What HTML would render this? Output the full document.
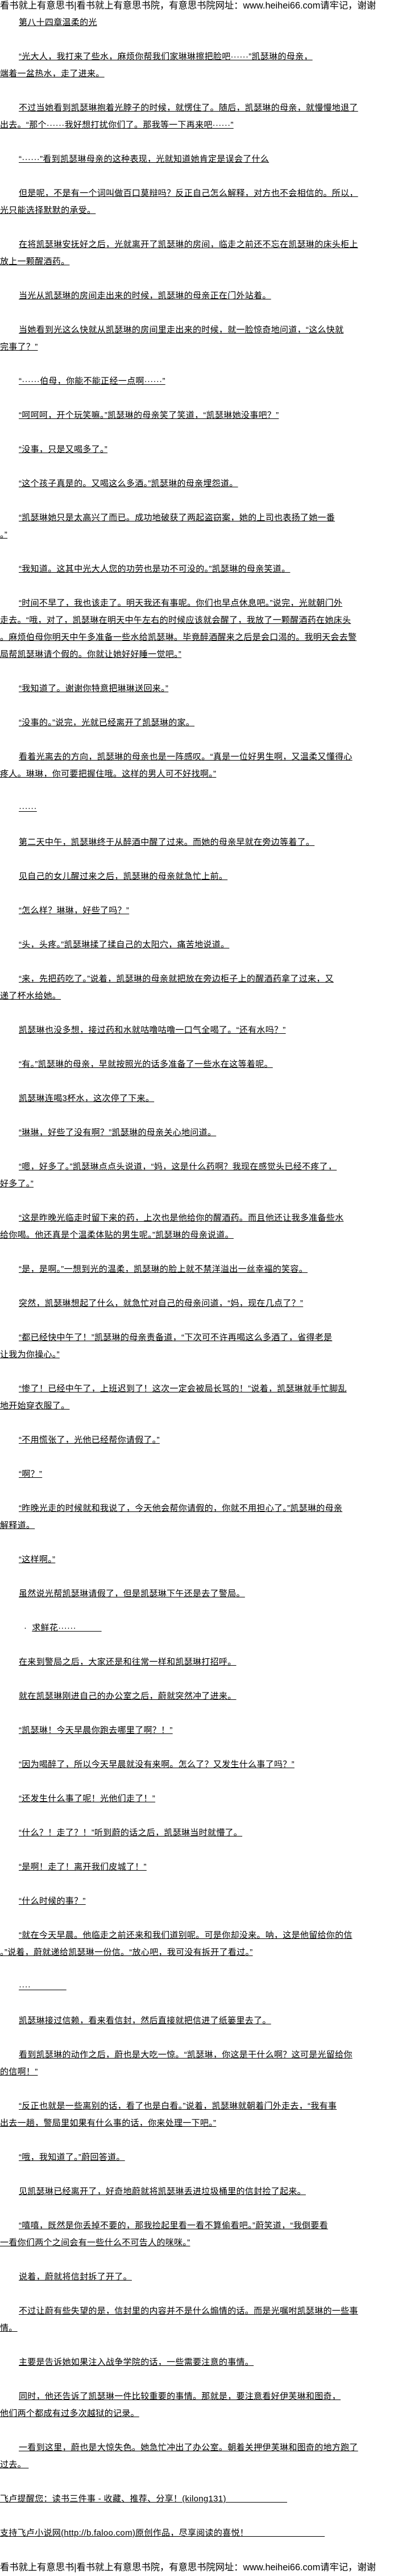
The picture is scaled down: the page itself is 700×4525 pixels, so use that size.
<!DOCTYPE html>
<html><head><meta charset="utf-8">
<style>
html,body{margin:0;padding:0;background:#fff;}
body{width:700px;height:4520px;overflow:hidden;}
#w{position:relative;top:-5px;font-family:"Liberation Sans","Noto Sans CJK SC","WenQuanYi Zen Hei",sans-serif;font-size:15px;color:#000;letter-spacing:0.3px;}
#w div{height:30px;line-height:30px;white-space:nowrap;overflow:hidden;}
.i{padding-left:33px;}
#w div span{text-decoration:underline;}
.h{font-size:16.3px;letter-spacing:0;}
</style></head><body><div id="w">
<div class="h">看书就上有意思书|看书就上有意思书院，有意思书院网址：www.heihei66.com请牢记，谢谢</div>
<div class="i"><span>第八十四章温柔的光</span></div>
<div></div>
<div class="i"><span>“光大人，我打来了些水，麻烦你帮我们家琳琳擦把脸吧······”凯瑟琳的母亲，</span></div>
<div><span>端着一盆热水，走了进来。</span></div>
<div></div>
<div class="i"><span>不过当她看到凯瑟琳抱着光脖子的时候，就愣住了。随后，凯瑟琳的母亲，就慢慢地退了</span></div>
<div><span>出去。“那个······我好想打扰你们了。那我等一下再来吧······”</span></div>
<div></div>
<div class="i"><span>“······”看到凯瑟琳母亲的这种表现，光就知道她肯定是误会了什么</span></div>
<div></div>
<div class="i"><span>但是呢，不是有一个词叫做百口莫辩吗？反正自己怎么解释，对方也不会相信的。所以，</span></div>
<div><span>光只能选择默默的承受。</span></div>
<div></div>
<div class="i"><span>在将凯瑟琳安抚好之后，光就离开了凯瑟琳的房间，临走之前还不忘在凯瑟琳的床头柜上</span></div>
<div><span>放上一颗醒酒药。</span></div>
<div></div>
<div class="i"><span>当光从凯瑟琳的房间走出来的时候，凯瑟琳的母亲正在门外站着。</span></div>
<div></div>
<div class="i"><span>当她看到光这么快就从凯瑟琳的房间里走出来的时候，就一脸惊奇地问道，“这么快就</span></div>
<div><span>完事了？”</span></div>
<div></div>
<div class="i"><span>“······伯母，你能不能正经一点啊······”</span></div>
<div></div>
<div class="i"><span>“呵呵呵，开个玩笑嘛。”凯瑟琳的母亲笑了笑道，“凯瑟琳她没事吧？”</span></div>
<div></div>
<div class="i"><span>“没事，只是又喝多了。”</span></div>
<div></div>
<div class="i"><span>“这个孩子真是的。又喝这么多酒。”凯瑟琳的母亲埋怨道。</span></div>
<div></div>
<div class="i"><span>“凯瑟琳她只是太高兴了而已。成功地破获了两起盗窃案，她的上司也表扬了她一番</span></div>
<div><span>。”</span></div>
<div></div>
<div class="i"><span>“我知道。这其中光大人您的功劳也是功不可没的。”凯瑟琳的母亲笑道。</span></div>
<div></div>
<div class="i"><span>“时间不早了，我也该走了。明天我还有事呢。你们也早点休息吧。”说完，光就朝门外</span></div>
<div><span>走去。“哦，对了，凯瑟琳在明天中午左右的时候应该就会醒了，我放了一颗醒酒药在她床头</span></div>
<div><span>。麻烦伯母你明天中午多准备一些水给凯瑟琳。毕竟醉酒醒来之后是会口渴的。我明天会去警</span></div>
<div><span>局帮凯瑟琳请个假的。你就让她好好睡一觉吧。”</span></div>
<div></div>
<div class="i"><span>“我知道了。谢谢你特意把琳琳送回来。”</span></div>
<div></div>
<div class="i"><span>“没事的。”说完，光就已经离开了凯瑟琳的家。</span></div>
<div></div>
<div class="i"><span>看着光离去的方向，凯瑟琳的母亲也是一阵感叹。“真是一位好男生啊，又温柔又懂得心</span></div>
<div><span>疼人。琳琳，你可要把握住哦。这样的男人可不好找啊。”</span></div>
<div></div>
<div class="i"><span>······</span></div>
<div></div>
<div class="i"><span>第二天中午，凯瑟琳终于从醉酒中醒了过来。而她的母亲早就在旁边等着了。</span></div>
<div></div>
<div class="i"><span>见自己的女儿醒过来之后，凯瑟琳的母亲就急忙上前。</span></div>
<div></div>
<div class="i"><span>“怎么样？琳琳，好些了吗？”</span></div>
<div></div>
<div class="i"><span>“头，头疼。”凯瑟琳揉了揉自己的太阳穴，痛苦地说道。</span></div>
<div></div>
<div class="i"><span>“来，先把药吃了。”说着，凯瑟琳的母亲就把放在旁边柜子上的醒酒药拿了过来，又</span></div>
<div><span>递了杯水给她。</span></div>
<div></div>
<div class="i"><span>凯瑟琳也没多想，接过药和水就咕噜咕噜一口气全喝了。“还有水吗？”</span></div>
<div></div>
<div class="i"><span>“有。”凯瑟琳的母亲，早就按照光的话多准备了一些水在这等着呢。</span></div>
<div></div>
<div class="i"><span>凯瑟琳连喝3杯水，这次停了下来。</span></div>
<div></div>
<div class="i"><span>“琳琳，好些了没有啊？”凯瑟琳的母亲关心地问道。</span></div>
<div></div>
<div class="i"><span>“嗯，好多了。”凯瑟琳点点头说道，“妈，这是什么药啊？我现在感觉头已经不疼了，</span></div>
<div><span>好多了。”</span></div>
<div></div>
<div class="i"><span>“这是昨晚光临走时留下来的药，上次也是他给你的醒酒药。而且他还让我多准备些水</span></div>
<div><span>给你喝。他还真是个温柔体贴的男生呢。”凯瑟琳的母亲说道。</span></div>
<div></div>
<div class="i"><span>“是，是啊。”一想到光的温柔，凯瑟琳的脸上就不禁洋溢出一丝幸福的笑容。</span></div>
<div></div>
<div class="i"><span>突然，凯瑟琳想起了什么，就急忙对自己的母亲问道，“妈，现在几点了？”</span></div>
<div></div>
<div class="i"><span>“都已经快中午了！”凯瑟琳的母亲责备道，“下次可不许再喝这么多酒了，省得老是</span></div>
<div><span>让我为你操心。”</span></div>
<div></div>
<div class="i"><span>“惨了！已经中午了，上班迟到了！这次一定会被局长骂的！”说着，凯瑟琳就手忙脚乱</span></div>
<div><span>地开始穿衣服了。</span></div>
<div></div>
<div class="i"><span>“不用慌张了，光他已经帮你请假了。”</span></div>
<div></div>
<div class="i"><span>“啊？”</span></div>
<div></div>
<div class="i"><span>“昨晚光走的时候就和我说了，今天他会帮你请假的，你就不用担心了。”凯瑟琳的母亲</span></div>
<div><span>解释道。</span></div>
<div></div>
<div class="i"><span>“这样啊。”</span></div>
<div></div>
<div class="i"><span>虽然说光帮凯瑟琳请假了，但是凯瑟琳下午还是去了警局。</span></div>
<div></div>
<div style="padding-left:42px">·&nbsp;&nbsp;<span>求鲜花······&nbsp;&nbsp;&nbsp;&nbsp;&nbsp;&nbsp;&nbsp;&nbsp;&nbsp;&nbsp;</span></div>
<div></div>
<div class="i"><span>在来到警局之后，大家还是和往常一样和凯瑟琳打招呼。</span></div>
<div></div>
<div class="i"><span>就在凯瑟琳刚进自己的办公室之后，蔚就突然冲了进来。</span></div>
<div></div>
<div class="i"><span>“凯瑟琳！今天早晨你跑去哪里了啊？！”</span></div>
<div></div>
<div class="i"><span>“因为喝醉了，所以今天早晨就没有来啊。怎么了？又发生什么事了吗？”</span></div>
<div></div>
<div class="i"><span>“还发生什么事了呢！光他们走了！”</span></div>
<div></div>
<div class="i"><span>“什么？！走了？！”听到蔚的话之后，凯瑟琳当时就懵了。</span></div>
<div></div>
<div class="i"><span>“是啊！走了！离开我们皮城了！”</span></div>
<div></div>
<div class="i"><span>“什么时候的事？”</span></div>
<div></div>
<div class="i"><span>“就在今天早晨。他临走之前还来和我们道别呢。可是你却没来。呐，这是他留给你的信</span></div>
<div><span>。”说着，蔚就递给凯瑟琳一份信。“放心吧，我可没有拆开了看过。”</span></div>
<div></div>
<div class="i"><span>····&nbsp;&nbsp;&nbsp;&nbsp;&nbsp;&nbsp;&nbsp;&nbsp;&nbsp;&nbsp;&nbsp;&nbsp;&nbsp;&nbsp;</span></div>
<div></div>
<div class="i"><span>凯瑟琳接过信赖，看来看信封，然后直接就把信进了纸篓里去了。</span></div>
<div></div>
<div class="i"><span>看到凯瑟琳的动作之后，蔚也是大吃一惊。“凯瑟琳，你这是干什么啊？这可是光留给你</span></div>
<div><span>的信啊！”</span></div>
<div></div>
<div class="i"><span>“反正也就是一些离别的话，看了也是白看。”说着，凯瑟琳就朝着门外走去，“我有事</span></div>
<div><span>出去一趟，警局里如果有什么事的话，你来处理一下吧。”</span></div>
<div></div>
<div class="i"><span>“哦，我知道了。”蔚回答道。</span></div>
<div></div>
<div class="i"><span>见凯瑟琳已经离开了，好奇地蔚就将凯瑟琳丢进垃圾桶里的信封捡了起来。</span></div>
<div></div>
<div class="i"><span>“嘻嘻，既然是你丢掉不要的，那我捡起里看一看不算偷看吧。”蔚笑道，“我倒要看</span></div>
<div><span>一看你们两个之间会有一些什么不可告人的咪咪。”</span></div>
<div></div>
<div class="i"><span>说着，蔚就将信封拆了开了。</span></div>
<div></div>
<div class="i"><span>不过让蔚有些失望的是，信封里的内容并不是什么煽情的话。而是光嘱咐凯瑟琳的一些事</span></div>
<div><span>情。</span></div>
<div></div>
<div class="i"><span>主要是告诉她如果注入战争学院的话，一些需要注意的事情。</span></div>
<div></div>
<div class="i"><span>同时，他还告诉了凯瑟琳一件比较重要的事情。那就是，要注意看好伊芙琳和图奇，</span></div>
<div><span>他们两个都成有过多次越狱的记录。</span></div>
<div></div>
<div class="i"><span>一看到这里，蔚也是大惊失色。她急忙冲出了办公室。朝着关押伊芙琳和图奇的地方跑了</span></div>
<div><span>过去。&nbsp;</span></div>
<div></div>
<div><span>飞卢提醒您：读书三件事 - 收藏、推荐、分享！(kilong131)&nbsp;&nbsp;&nbsp;&nbsp;&nbsp;&nbsp;&nbsp;&nbsp;&nbsp;&nbsp;&nbsp;&nbsp;&nbsp;&nbsp;&nbsp;&nbsp;&nbsp;&nbsp;&nbsp;&nbsp;&nbsp;&nbsp;&nbsp;&nbsp;</span></div>
<div></div>
<div><span>支持飞卢小说网(http://b.faloo.com)原创作品，尽享阅读的喜悦！&nbsp;&nbsp;&nbsp;&nbsp;&nbsp;&nbsp;&nbsp;&nbsp;&nbsp;&nbsp;&nbsp;&nbsp;&nbsp;&nbsp;&nbsp;&nbsp;&nbsp;&nbsp;&nbsp;&nbsp;&nbsp;&nbsp;&nbsp;&nbsp;&nbsp;&nbsp;&nbsp;&nbsp;&nbsp;&nbsp;</span></div>
<div></div>
<div class="h">看书就上有意思书|看书就上有意思书院，有意思书院网址：www.heihei66.com请牢记，谢谢</div>
</div></body></html>
